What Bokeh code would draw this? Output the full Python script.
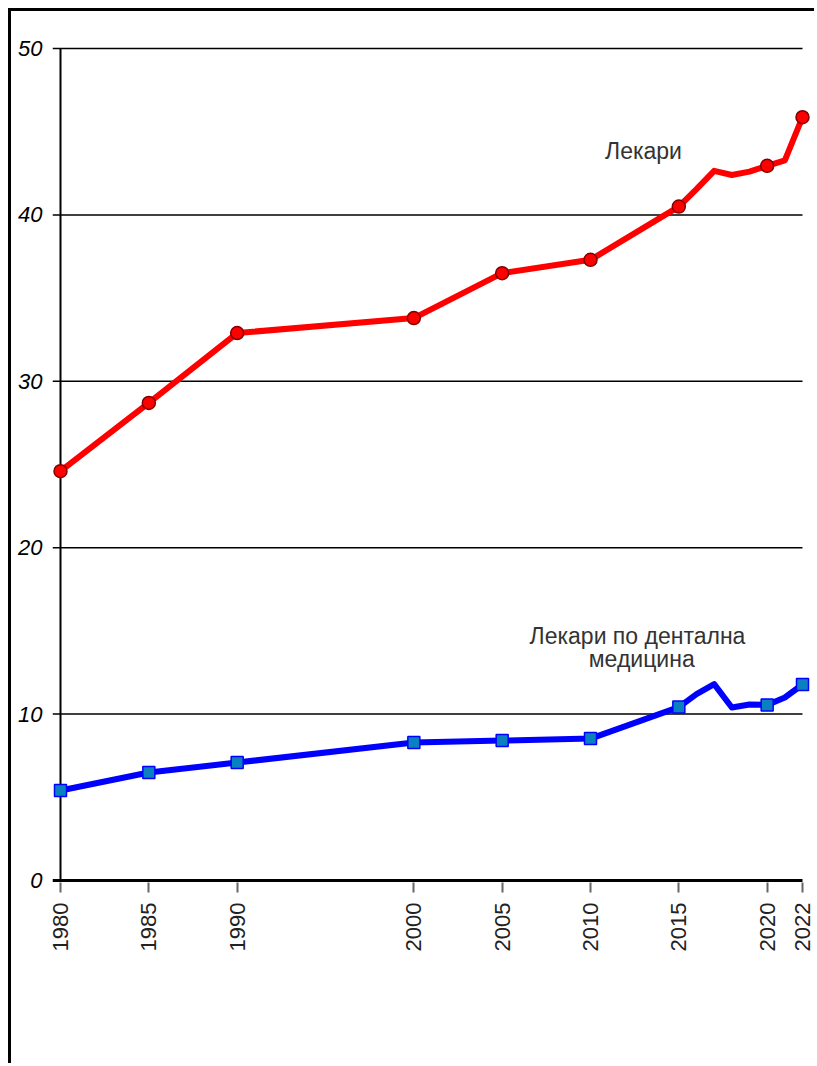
from bokeh.plotting import figure
from bokeh.models import FixedTicker, Label
from bokeh.embed import file_html
from bokeh.resources import INLINE

years = [1980, 1985, 1990, 2000, 2005, 2010, 2015, 2016, 2017, 2018, 2019, 2020, 2021, 2022]
doctors = [24.6, 28.7, 32.9, 33.8, 36.5, 37.3, 40.5, 41.55, 42.65, 42.4, 42.6, 42.95, 43.27, 45.87]
dentists = [5.41, 6.49, 7.09, 8.29, 8.41, 8.53, 10.42, 11.2, 11.8, 10.4, 10.58, 10.55, 11.0, 11.78]
marker_years = [1980, 1985, 1990, 2000, 2005, 2010, 2015, 2020, 2022]
y_ticks = [0, 10, 20, 30, 40, 50]
label_doctors = "Лекари"
label_dentists = ["Лекари по дентална", "медицина"]

FONT = "Liberation Sans"
px_per_year = 17.667
px_per_unit = 16.64
x_start = years[0] - 8 / px_per_year
x_end = years[-1] + 10 / px_per_year
y_start = -2 / px_per_unit
y_end = y_ticks[-1] + 2 / px_per_unit

p = figure(width=806, height=1055, output_backend="svg", toolbar_location=None,
           x_range=(x_start, x_end), y_range=(y_start, y_end),
           min_border_left=41, min_border_right=5, min_border_top=35, min_border_bottom=184)
p.styles = {"border-left": "3px solid black", "border-top": "3px solid black",
            "margin-left": "8px", "margin-top": "8px"}
p.outline_line_color = None
p.background_fill_color = "white"
p.border_fill_color = "white"
p.xgrid.visible = False
p.ygrid.visible = False

# axes
p.yaxis.ticker = FixedTicker(ticks=y_ticks)
p.yaxis.axis_line_color = None
p.yaxis.major_tick_line_color = None
p.yaxis.minor_tick_line_color = None
p.yaxis.major_label_text_font = FONT
p.yaxis.major_label_text_font_style = "italic"
p.yaxis.major_label_text_font_size = "22px"
p.yaxis.major_label_text_color = "black"
p.yaxis.major_label_standoff = 4

p.xaxis.ticker = FixedTicker(ticks=marker_years)
p.xaxis.axis_line_color = None
p.xaxis.major_tick_line_color = "#666666"
p.xaxis.major_tick_line_width = 2
p.xaxis.major_tick_out = 10
p.xaxis.major_tick_in = 0
p.xaxis.minor_tick_line_color = None
p.xaxis.major_label_orientation = 3.14159265 / 2
p.xaxis.major_label_text_font = FONT
p.xaxis.major_label_text_font_size = "22px"
p.xaxis.major_label_text_color = "#222222"
p.xaxis.major_label_standoff = 10

# gridlines (span from tick start to last year)
grid_y = [t for t in y_ticks if t > 0]
p.segment(x0=[x_start] * len(grid_y), y0=grid_y, x1=[years[-1]] * len(grid_y), y1=grid_y,
          line_color="black", line_width=1.5)
# x axis line
p.segment(x0=[x_start], y0=[0], x1=[years[-1]], y1=[0], line_color="black", line_width=3)
# y axis line
p.segment(x0=[years[0]], y0=[0], x1=[years[0]], y1=[y_ticks[-1]], line_color="black", line_width=2)

# series
p.line(years, doctors, line_color="#ff0000", line_width=6, line_join="round")
p.line(years, dentists, line_color="#0000ff", line_width=6, line_join="round")

md = [d for y, d in zip(years, doctors) if y in marker_years]
mt = [d for y, d in zip(years, dentists) if y in marker_years]
p.scatter(marker_years, md, marker="circle", size=13, fill_color="#ff0000",
          line_color="#800000", line_width=1.5)
p.scatter(marker_years, mt, marker="square", size=12, fill_color="#0a80c0",
          line_color="#0000ff", line_width=1.5)

p.add_layout(Label(x=2013.0, y=43.87, text=label_doctors, text_font=FONT,
                   text_font_size="23px", text_color="#333333",
                   text_align="center", text_baseline="middle"))
p.add_layout(Label(x=2012.66, y=14.72, text=label_dentists[0], text_font=FONT,
                   text_font_size="23px", text_color="#333333",
                   text_align="center", text_baseline="middle"))
p.add_layout(Label(x=2012.9, y=13.34, text=label_dentists[1], text_font=FONT,
                   text_font_size="23px", text_color="#333333",
                   text_align="center", text_baseline="middle"))

open("out.html", "w").write(file_html(p, INLINE))
